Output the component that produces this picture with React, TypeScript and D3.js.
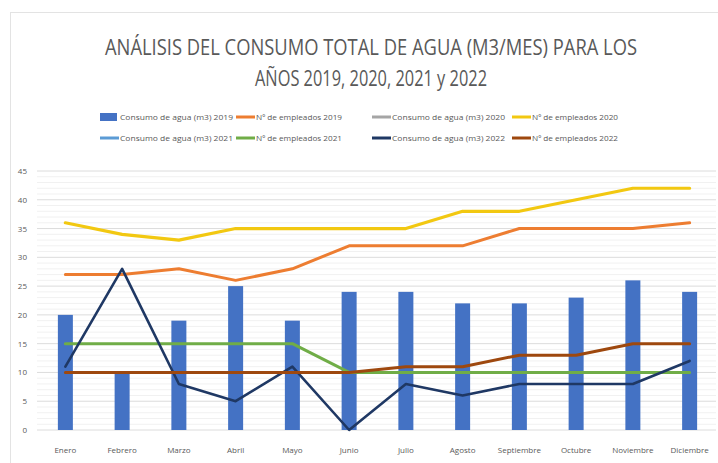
import React from 'react';
import * as d3 from 'd3';

const months = [
  'Enero', 'Febrero', 'Marzo', 'Abril', 'Mayo', 'Junio',
  'Julio', 'Agosto', 'Septiembre', 'Octubre', 'Noviembre', 'Diciembre',
];

// bar series
const consumo2019 = [20, 10, 19, 25, 19, 24, 24, 22, 22, 23, 26, 24];

// line series (the 2020 / 2021 water series show nothing on the chart)
const empleados2019 = [27, 27, 28, 26, 28, 32, 32, 32, 35, 35, 35, 36];
const consumo2020: number[] = [];
const empleados2020 = [36, 34, 33, 35, 35, 35, 35, 38, 38, 40, 42, 42];
const consumo2021: number[] = [];
const empleados2021 = [15, 15, 15, 15, 15, 10, 10, 10, 10, 10, 10, 10];
const consumo2022 = [11, 28, 8, 5, 11, 0, 8, 6, 8, 8, 8, 12];
const empleados2022 = [10, 10, 10, 10, 10, 10, 11, 11, 13, 13, 15, 15];

const yTicks = [0, 5, 10, 15, 20, 25, 30, 35, 40, 45];

const titleLines = [
  'ANÁLISIS DEL CONSUMO TOTAL DE AGUA (M3/MES) PARA LOS',
  'AÑOS 2019, 2020, 2021 y 2022',
];

const lineSeries = [
  { name: 'Nº de empleados 2019', values: empleados2019, color: '#ED7D31', width: 3 },
  { name: 'Consumo de agua (m3) 2020', values: consumo2020, color: '#A5A5A5', width: 3 },
  { name: 'Nº de empleados 2020', values: empleados2020, color: '#F2C811', width: 3.2 },
  { name: 'Consumo de agua (m3) 2021', values: consumo2021, color: '#5B9BD5', width: 3 },
  { name: 'Nº de empleados 2021', values: empleados2021, color: '#70AD47', width: 3 },
  { name: 'Consumo de agua (m3) 2022', values: consumo2022, color: '#1F3864', width: 2.6 },
  { name: 'Nº de empleados 2022', values: empleados2022, color: '#9E480E', width: 3 },
];

const legendItems = [
  { name: 'Consumo de agua (m3) 2019', color: '#4472C4', bar: true },
  ...lineSeries.map((s) => ({ name: s.name, color: s.color, bar: false })),
];

const W = 718;
const H = 463;
const font = "'Open Sans', 'DejaVu Sans', sans-serif";
const textColor = '#595959';

const App: React.FC = () => {
  const x = d3.scaleBand<string>().domain(months).range([37, 718]).padding(0);
  const y = d3.scaleLinear().domain([0, 45]).range([430, 171]);
  const cx = (m: string) => (x(m) || 0) + x.bandwidth() / 2;
  const barW = 15;

  const line = d3
    .line<number>()
    .x((_, i) => cx(months[i]))
    .y((d) => y(d));

  const minor = d3.range(0, 46, 1).filter((v) => v % 5 !== 0);

  const legendCols = [100, 236, 372, 512];
  const legendRows = [117, 138];

  return (
    <>
      <style>{'body{margin:0}'}</style>
      <svg width={W} height={H} style={{ display: 'block', background: '#fff' }}>
        <rect x={10.5} y={12.5} width={W} height={H} fill="none" stroke="#e3e3e3" />

        {titleLines.map((t, i) => (
          <text
            key={t}
            x={371}
            y={55 + i * 31}
            textAnchor="middle"
            fontFamily={font}
            fontSize={21}
            fill={textColor}
            textLength={i === 0 ? 532 : 232}
            lengthAdjust="spacingAndGlyphs"
          >
            {t}
          </text>
        ))}

        {legendItems.map((item, i) => {
          const lx = legendCols[i % 4];
          const ly = legendRows[Math.floor(i / 4)];
          return (
            <g key={item.name} transform={`translate(${lx},${ly})`}>
              {item.bar ? (
                <rect x={0} y={-4} width={17} height={8} fill={item.color} />
              ) : (
                <line x1={0} x2={19} y1={0} y2={0} stroke={item.color} strokeWidth={3} />
              )}
              <text
                x={20}
                y={3}
                fontFamily={font}
                fontSize={8}
                fill={textColor}
                textLength={item.name.startsWith('Consumo') ? 113 : 86}
                lengthAdjust="spacingAndGlyphs"
              >
                {item.name}
              </text>
            </g>
          );
        })}

        {minor.map((v) => (
          <line key={`m${v}`} x1={37} x2={716} y1={y(v)} y2={y(v)} stroke="#f1f1f1" strokeWidth={1} />
        ))}
        {yTicks.map((v) => (
          <g key={v}>
            <line x1={37} x2={716} y1={y(v)} y2={y(v)} stroke="#dcdcdc" strokeWidth={1} />
            <text
              x={27}
              y={y(v) + 3}
              textAnchor="end"
              fontFamily={font}
              fontSize={8}
              fill={textColor}
            >
              {v}
            </text>
          </g>
        ))}

        {consumo2019.map((v, i) => (
          <rect
            key={months[i]}
            x={cx(months[i]) - barW / 2}
            y={y(v)}
            width={barW}
            height={y(0) - y(v)}
            fill="#4472C4"
          />
        ))}

        {lineSeries
          .filter((s) => s.values.length)
          .map((s) => (
            <path
              key={s.name}
              d={line(s.values) || ''}
              fill="none"
              stroke={s.color}
              strokeWidth={s.width}
              strokeLinejoin="round"
              strokeLinecap="round"
            />
          ))}

        {months.map((m) => (
          <text
            key={m}
            x={cx(m)}
            y={453}
            textAnchor="middle"
            fontFamily={font}
            fontSize={8}
            fill={textColor}
          >
            {m}
          </text>
        ))}
      </svg>
    </>
  );
};

export default App;
